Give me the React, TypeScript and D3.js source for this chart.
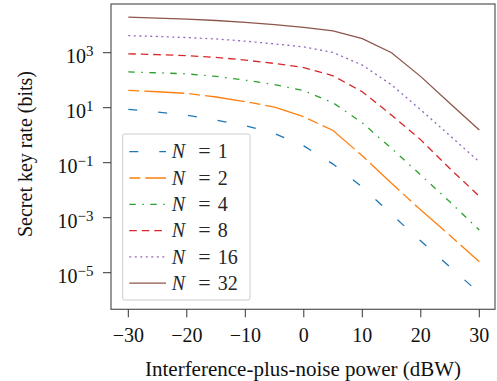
import * as d3 from "d3";

// interference-plus-noise power (dBW)
const powers = [-30, -25, -20, -15, -10, -5, 0, 5, 10, 15, 20, 25, 30];

const rateN1 = [8.71, 6.92, 5.37, 3.55, 2.24, 1.15, 0.407, 0.0891, 0.0129, 0.00132, 0.000141, 0.0000162, 0.00000182];
const rateN2 = [42.7, 38, 33.1, 24.5, 16.6, 10.5, 4.68, 1.48, 0.178, 0.0178, 0.0019, 0.000224, 0.0000251];
const rateN4 = [200, 186, 170, 138, 100, 69.2, 41.7, 15.1, 2.82, 0.331, 0.0355, 0.00372, 0.000355];
const rateN8 = [912, 851, 776, 676, 537, 407, 288, 145, 38, 5.37, 0.676, 0.0603, 0.00603];
const rateN16 = [4170, 3890, 3550, 3160, 2630, 2090, 1620, 1020, 355, 67.6, 8.3, 0.955, 0.107];
const rateN32 = [19500, 18200, 16600, 14800, 12600, 10500, 8300, 6200, 3240, 1000, 135, 14.1, 1.55];

const seriesN = ["1", "2", "4", "8", "16", "32"];
const seriesValues = [rateN1, rateN2, rateN4, rateN8, rateN16, rateN32];
const colors = ["#1f77b4", "#ff7f0e", "#2ca02c", "#d62728", "#9467bd", "#8c564b"];
const dashes = ["9 21", "11 5 40 5", "6.5 6.5 1.5 6.5", "7.5 5", "2 3.5", "none"];

const xTicks = [-30, -20, -10, 0, 10, 20, 30];
const yTickExps = [3, 1, -1, -3, -5];

const frame = { left: 111, right: 495, top: 4, bottom: 309.3 };
const font = "'Liberation Serif', 'Times New Roman', serif";

const fmt = (v: number) => (v < 0 ? "\u2212" + Math.abs(v) : String(v));

export default function App() {
  const x = d3.scaleLinear().domain([-30, 30]).range([128.3, 479.3]);
  const y = d3.scaleLog().domain([1e-5, 1e3]).range([272.7, 52.7]);

  const line = d3
    .line<number>()
    .x((_, i) => x(powers[i]))
    .y((d) => y(d));

  const legendX = 122.7;
  const legendY = 134;
  const rowH = 26.3;

  return (
    <svg
      width={497}
      height={381}
      style={{ position: "absolute", left: 0, top: 0, background: "white" }}
      fontFamily={font}
    >
      <rect width={497} height={381} fill="white" />
      <g>
        {seriesValues.map((vals, k) => (
          <path
            key={k}
            d={line(vals) || undefined}
            fill="none"
            stroke={colors[k]}
            strokeWidth={1.3}
            strokeDasharray={dashes[k]}
          />
        ))}
      </g>

      {/* legend */}
      <rect
        x={legendX}
        y={legendY}
        width={127.3}
        height={166}
        rx={2}
        fill="white"
        fillOpacity={0.8}
        stroke="#cccccc"
        strokeWidth={1}
      />
      {seriesN.map((n, k) => {
        const cy = legendY + 17.7 + k * rowH;
        return (
          <g key={n} fontSize={20} fill="#262626">
            <line
              x1={129.3}
              x2={166}
              y1={cy}
              y2={cy}
              stroke={colors[k]}
              strokeWidth={1.3}
              strokeDasharray={dashes[k]}
            />
            <text x={171.7} y={cy + 6.7} fontStyle="italic">
              N
            </text>
            <text x={204.5} y={cy + 6.7} textAnchor="middle" fontSize={22}>
              =
            </text>
            <text x={217.8} y={cy + 6.7}>
              {n}
            </text>
          </g>
        );
      })}

      {/* frame */}
      <rect
        x={frame.left}
        y={frame.top}
        width={frame.right - frame.left}
        height={frame.bottom - frame.top}
        fill="none"
        stroke="#555"
        strokeWidth={1.2}
      />

      {/* x axis */}
      {xTicks.map((t) => (
        <g key={t}>
          <line x1={x(t)} x2={x(t)} y1={frame.bottom} y2={frame.bottom + 8} stroke="#333" strokeWidth={1} />
          <text x={x(t)} y={342} fontSize={20} textAnchor="middle" fill="#111">
            {fmt(t)}
          </text>
        </g>
      ))}
      <text x={303} y={376} fontSize={21} textAnchor="middle" fill="#111">
        Interference-plus-noise power (dBW)
      </text>

      {/* y axis */}
      {yTickExps.map((e) => {
        const ty = y(Math.pow(10, e));
        return (
          <g key={e}>
            <line x1={frame.left - 8} x2={frame.left} y1={ty} y2={ty} stroke="#333" strokeWidth={1} />
            <text x={93.5} y={ty + 10} fontSize={20} textAnchor="end" fill="#111">
              10
              <tspan dy={-7} fontSize={15}>
                {fmt(e)}
              </tspan>
            </text>
          </g>
        );
      })}
      <text
        transform={`translate(31.5,154) rotate(-90)`}
        fontSize={20}
        textAnchor="middle"
        fill="#111"
      >
        Secret key rate (bits)
      </text>
    </svg>
  );
}
